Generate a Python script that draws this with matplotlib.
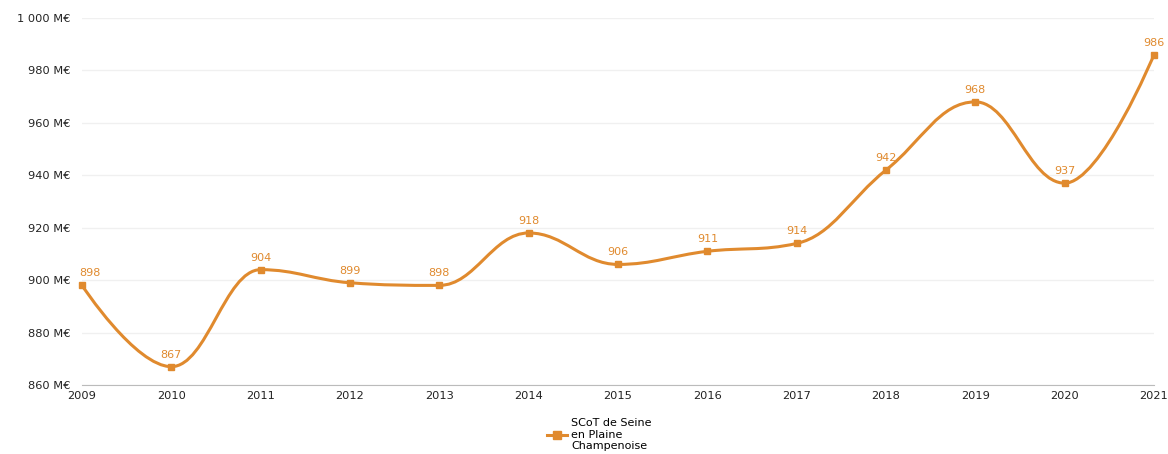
import matplotlib
matplotlib.use("Agg")
import matplotlib.pyplot as plt
from matplotlib.path import Path
from matplotlib.patches import PathPatch
from matplotlib.lines import Line2D

years = [2009, 2010, 2011, 2012, 2013, 2014, 2015, 2016, 2017, 2018, 2019, 2020, 2021]
values = [898, 867, 904, 899, 898, 918, 906, 911, 914, 942, 968, 937, 986]
yticks = [860, 880, 900, 920, 940, 960, 980, 1000]
series_name = "SCoT de Seine\nen Plaine\nChampenoise"
color = "#E08A2E"

def fmt(v):
    s = f"{v:,}".replace(",", " ")
    return f"{s} M€"

def spline_path(xs, ys, smoothing=1.5):
    n = len(xs)
    verts = [(xs[0], ys[0])]
    codes = [Path.MOVETO]
    ctrl = []
    for i in range(n):
        if i == 0 or i == n - 1:
            ctrl.append(((xs[i], ys[i]), (xs[i], ys[i])))
            continue
        d = smoothing + 1
        lx = (smoothing * xs[i] + xs[i - 1]) / d
        ly = (smoothing * ys[i] + ys[i - 1]) / d
        rx = (smoothing * xs[i] + xs[i + 1]) / d
        ry = (smoothing * ys[i] + ys[i + 1]) / d
        if rx != lx:
            corr = ((ry - ly) * (rx - xs[i])) / (rx - lx) + ys[i] - ry
            ly += corr
            ry += corr
        if ly > ys[i - 1] and ly > ys[i]:
            ly = max(ys[i - 1], ys[i]); ry = 2 * ys[i] - ly
        elif ly < ys[i - 1] and ly < ys[i]:
            ly = min(ys[i - 1], ys[i]); ry = 2 * ys[i] - ly
        if ry > ys[i + 1] and ry > ys[i]:
            ry = max(ys[i + 1], ys[i]); ly = 2 * ys[i] - ry
        elif ry < ys[i + 1] and ry < ys[i]:
            ry = min(ys[i + 1], ys[i]); ly = 2 * ys[i] - ry
        ctrl.append(((lx, ly), (rx, ry)))
    for i in range(1, n):
        verts += [ctrl[i - 1][1], ctrl[i][0], (xs[i], ys[i])]
        codes += [Path.CURVE4] * 3
    return Path(verts, codes)

fig = plt.figure(figsize=(11.68, 4.54), dpi=100)
ax = fig.add_axes([82 / 1168, 1 - 385 / 454, (1154 - 82) / 1168, (385 - 18) / 454])

ax.set_xlim(years[0], years[-1])
ax.set_ylim(860, 1000)
ax.set_yticks(yticks)
ax.set_yticklabels([fmt(v) for v in yticks])
ax.set_xticks(years)
ax.set_xticklabels([str(y) for y in years])
ax.grid(axis="y", color="#f0f0f0", linewidth=1)
ax.set_axisbelow(True)
for s in ["top", "right", "left"]:
    ax.spines[s].set_visible(False)
ax.spines["bottom"].set_color("#bbbbbb")
ax.tick_params(axis="both", length=0, labelsize=8.2, colors="#222222")
ax.tick_params(axis="y", pad=8)
ax.tick_params(axis="x", pad=4)

path = spline_path(years, values)
ax.add_patch(PathPatch(path, facecolor="none", edgecolor=color, linewidth=2.2, capstyle="round", clip_on=False))
ax.plot(years, values, linestyle="none", marker="s", markersize=5, color=color, clip_on=False)

for i, (x, v) in enumerate(zip(years, values)):
    dx = 6 if i == 0 else 0
    ax.annotate(str(v), (x, v), xytext=(dx, 5), textcoords="offset points",
                ha="center", va="bottom", fontsize=8, color=color)

handle = Line2D([], [], color=color, linewidth=2.2, marker="s", markersize=6)
fig.legend([handle], [series_name], loc="upper center", bbox_to_anchor=(0.513, 1 - 408 / 454),
           frameon=False, fontsize=8, handlelength=1.8, handletextpad=0.4, labelspacing=0)

fig.savefig("out.png", dpi=100)
